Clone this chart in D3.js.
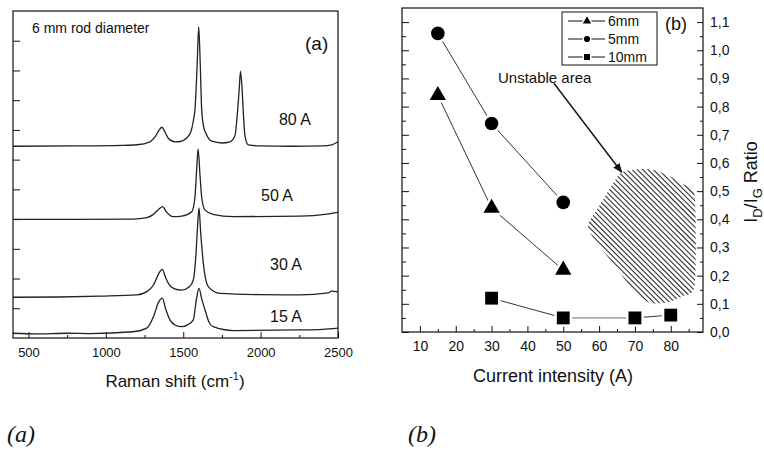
<!DOCTYPE html>
<html>
<head>
<meta charset="utf-8">
<script src="https://cdn.jsdelivr.net/npm/d3@7"></script>
<style>
  body { margin: 0; background: #fff; }
  svg text { font-family: "Liberation Sans", Arial, sans-serif; fill: #111; }
  .tick line { stroke: #111; }
</style>
</head>
<body>
<div id="chart"></div>
<script>
var width = 764;
var height = 450;

// ---- panel (a): Raman spectra, [shift, intensity] pairs
var spec80 = [[400,6.45],[800,6.46],[1100,6.48],[1200,6.50],[1285,6.60],[1320,6.78],[1345,7.0],[1362,7.09],[1380,6.95],[1403,6.72],[1447,6.60],[1480,6.61],[1522,6.73],[1548,6.92],[1565,7.3],[1576,7.7],[1590,9.2],[1600,10.47],[1610,9.2],[1619,7.7],[1632,7.1],[1647,6.88],[1684,6.62],[1750,6.56],[1802,6.60],[1834,6.8],[1849,7.5],[1862,8.4],[1870,8.98],[1880,8.4],[1888,7.6],[1899,6.8],[1920,6.5],[2000,6.46],[2200,6.45],[2400,6.46],[2460,6.5],[2500,6.6]];
var spec50 = [[400,3.99],[800,3.99],[1175,4.0],[1264,4.05],[1305,4.15],[1335,4.3],[1367,4.42],[1390,4.25],[1434,4.08],[1490,4.1],[1555,4.25],[1575,4.7],[1585,5.5],[1596,6.36],[1608,5.5],[1620,4.7],[1641,4.3],[1692,4.16],[1822,4.08],[2254,4.1],[2429,4.17],[2500,4.23]];
var spec30 = [[400,1.37],[700,1.38],[962,1.41],[1200,1.45],[1264,1.56],[1310,1.8],[1340,2.15],[1365,2.31],[1385,2.05],[1404,1.84],[1440,1.66],[1490,1.61],[1540,1.72],[1565,1.95],[1582,2.8],[1593,3.8],[1602,4.38],[1612,3.6],[1630,2.51],[1662,1.73],[1738,1.5],[2000,1.46],[2254,1.45],[2437,1.52],[2459,1.58],[2500,1.55]];
var spec15 = [[400,0.16],[550,0.14],[747,0.16],[900,0.15],[1175,0.21],[1264,0.33],[1310,0.75],[1340,1.2],[1365,1.34],[1385,1.0],[1414,0.61],[1450,0.43],[1490,0.38],[1530,0.45],[1565,0.61],[1585,1.3],[1602,1.67],[1620,1.3],[1641,0.94],[1665,0.55],[1694,0.38],[1823,0.25],[2254,0.27],[2400,0.29],[2500,0.33]];
var spectra = [spec80, spec50, spec30, spec15];
var specLabels = ['80 A', '50 A', '30 A', '15 A'];
var specLabelPos = [[2222,7.16],[2106,4.61],[2164,2.29],[2164,0.54]];
var ramanTicks = [500, 1000, 1500, 2000, 2500];
var ramanMinor = [750, 1250, 1750, 2250];
var intensityTicks = [1, 2, 3, 4, 5, 6, 7, 8, 9, 10];

// ---- panel (b): ID/IG ratio vs current
var current6 = [15, 30, 50];
var ratio6 = [0.84, 0.44, 0.22];
var current5 = [15, 30, 50];
var ratio5 = [1.06, 0.74, 0.46];
var current10 = [30, 50, 70, 80];
var ratio10 = [0.12, 0.05, 0.05, 0.06];
var currentTicks = [10, 20, 30, 40, 50, 60, 70, 80];
var currentMinor = [15, 25, 35, 45, 55, 65, 75, 85];
var ratioTicks = [0, 0.1, 0.2, 0.3, 0.4, 0.5, 0.6, 0.7, 0.8, 0.9, 1.0, 1.1];
var ratioMinor = [0.05, 0.15, 0.25, 0.35, 0.45, 0.55, 0.65, 0.75, 0.85, 0.95, 1.05];
// unstable area outline (current, ratio) and arrow
var unstableOutline = [[66.3,0.567],[71.4,0.578],[75.6,0.574],[79.7,0.553],[83.4,0.525],[86.7,0.482],[86.7,0.167],[83.4,0.128],[79.2,0.106],[74.2,0.103],[70.0,0.142],[63.6,0.248],[58.8,0.326],[56.9,0.379],[60.2,0.45],[63.6,0.521]];
var arrowFrom = [47.4, 0.883];
var arrowTo = [66.3, 0.567];

var svg = d3.select('#chart')
  .append('svg')
  .attr('width', width)
  .attr('height', height);

svg.append('rect').attr('width', width).attr('height', height).attr('fill', '#fff');

// ================= panel (a)
var xA = d3.scaleLinear().domain([400, 2500]).range([13, 338]);
var yA = d3.scaleLinear().domain([0, 11]).range([338, 11]);

var gA = svg.append('g');

gA.append('g')
  .attr('transform', 'translate(0,338)')
  .call(d3.axisBottom(xA).tickValues(ramanTicks).tickSize(-6).tickPadding(10).tickFormat(d3.format('d')))
  .call(g => g.select('.domain').remove())
  .selectAll('text').style('font-size', '13px');

gA.append('g')
  .attr('transform', 'translate(0,338)')
  .call(d3.axisBottom(xA).tickValues(ramanMinor).tickSize(-3).tickFormat(''))
  .call(g => g.select('.domain').remove());

gA.append('g')
  .attr('transform', 'translate(13,0)')
  .call(d3.axisLeft(yA).tickValues(intensityTicks).tickSize(-7).tickFormat(''))
  .call(g => g.select('.domain').remove());

var specLine = d3.line()
  .x(d => xA(d[0]))
  .y(d => yA(d[1]))
  .curve(d3.curveMonotoneX);

gA.selectAll('path.spec')
  .data(spectra)
  .enter()
  .append('path')
  .attr('class', 'spec')
  .attr('d', specLine)
  .attr('fill', 'none')
  .attr('stroke', '#222')
  .attr('stroke-width', 1.3);

gA.selectAll('text.slab')
  .data(specLabels)
  .enter()
  .append('text')
  .attr('class', 'slab')
  .attr('x', (d, i) => xA(specLabelPos[i][0]))
  .attr('y', (d, i) => yA(specLabelPos[i][1]))
  .attr('text-anchor', 'middle')
  .style('font-size', '16px')
  .text(d => d);

gA.append('rect')
  .attr('x', 13).attr('y', 11).attr('width', 325).attr('height', 327)
  .attr('fill', 'none').attr('stroke', '#111').attr('stroke-width', 1.2);

gA.append('text').attr('x', 32).attr('y', 33).style('font-size', '14px').text('6 mm rod diameter');
gA.append('text').attr('x', 305).attr('y', 50).style('font-size', '19px').text('(a)');

var xlabA = gA.append('text')
  .attr('x', 175).attr('y', 387)
  .attr('text-anchor', 'middle')
  .style('font-size', '17px');
xlabA.append('tspan').text('Raman shift (cm');
xlabA.append('tspan').attr('dy', -7).style('font-size', '11px').text('-1');
xlabA.append('tspan').attr('dy', 7).text(')');

// ================= panel (b)
var xB = d3.scaleLinear().domain([5, 89]).range([402, 703]);
var yB = d3.scaleLinear().domain([0, 1.15]).range([332, 8]);
var gB = svg.append('g');

// hatched unstable area
gB.append('clipPath').attr('id', 'blob')
  .append('path')
  .attr('d', d3.line().x(d => xB(d[0])).y(d => yB(d[1])).curve(d3.curveCardinalClosed.tension(0.3))(unstableOutline));

var hatchG = gB.append('g').attr('clip-path', 'url(#blob)');
var hatchStarts = d3.range(480, 720, 5.3);
hatchG.selectAll('line')
  .data(hatchStarts)
  .enter()
  .append('line')
  .attr('x1', d => d)
  .attr('y1', 150)
  .attr('x2', d => d + 180)
  .attr('y2', 330)
  .attr('stroke', '#333')
  .attr('stroke-width', 1.1);

// axes
var fmt = d => d3.format('.1f')(d).replace('.', ',');

gB.append('g')
  .attr('transform', 'translate(0,332)')
  .call(d3.axisBottom(xB).tickValues(currentTicks).tickSize(-6).tickPadding(9))
  .call(g => g.select('.domain').remove())
  .selectAll('text').style('font-size', '14px');
gB.append('g')
  .attr('transform', 'translate(0,332)')
  .call(d3.axisBottom(xB).tickValues(currentMinor).tickSize(-3).tickFormat(''))
  .call(g => g.select('.domain').remove());

gB.append('g')
  .attr('transform', 'translate(703,0)')
  .call(d3.axisRight(yB).tickValues(ratioTicks).tickSize(-6).tickPadding(7).tickFormat(fmt))
  .call(g => g.select('.domain').remove())
  .selectAll('text').style('font-size', '14px');
gB.append('g')
  .attr('transform', 'translate(703,0)')
  .call(d3.axisRight(yB).tickValues(ratioMinor).tickSize(-3).tickFormat(''))
  .call(g => g.select('.domain').remove());
gB.append('g')
  .attr('transform', 'translate(402,0)')
  .call(d3.axisLeft(yB).tickValues(ratioTicks).tickSize(-7).tickFormat(''))
  .call(g => g.select('.domain').remove());
gB.append('g')
  .attr('transform', 'translate(402,0)')
  .call(d3.axisLeft(yB).tickValues(ratioMinor).tickSize(-4).tickFormat(''))
  .call(g => g.select('.domain').remove());

// series
var series = [
  { xs: current6, ys: ratio6, sym: d3.symbolTriangle, size: 115 },
  { xs: current5, ys: ratio5, sym: d3.symbolCircle, size: 145 },
  { xs: current10, ys: ratio10, sym: d3.symbolSquare, size: 165 }
];

series.forEach(function (s) {
  var pts = s.xs.map((x, i) => [x, s.ys[i]]);
  for (var i = 0; i < pts.length - 1; i++) {
    var light = (s.sym === d3.symbolSquare && pts[i][0] === 50);
    gB.append('line')
      .attr('x1', xB(pts[i][0])).attr('y1', yB(pts[i][1]))
      .attr('x2', xB(pts[i + 1][0])).attr('y2', yB(pts[i + 1][1]))
      .attr('stroke', light ? '#aaa' : '#333')
      .attr('stroke-width', light ? 1.6 : 1);
  }
  gB.selectAll(null)
    .data(pts)
    .enter()
    .append('path')
    .attr('d', d3.symbol().type(s.sym).size(s.size))
    .attr('transform', d => 'translate(' + xB(d[0]) + ',' + yB(d[1]) + ')')
    .attr('fill', '#000')
    .attr('stroke', '#fff')
    .attr('stroke-width', 5)
    .style('paint-order', 'stroke');
});

// arrow
svg.append('defs').append('marker')
  .attr('id', 'head')
  .attr('viewBox', '0 0 10 10')
  .attr('refX', 9).attr('refY', 5)
  .attr('markerWidth', 7).attr('markerHeight', 7)
  .attr('orient', 'auto')
  .append('path').attr('d', 'M0,1 L10,5 L0,9 Z').attr('fill', '#111');

gB.append('line')
  .attr('x1', xB(arrowFrom[0])).attr('y1', yB(arrowFrom[1]))
  .attr('x2', xB(arrowTo[0])).attr('y2', yB(arrowTo[1]))
  .attr('stroke', '#111').attr('stroke-width', 1.4)
  .attr('marker-end', 'url(#head)');

gB.append('text').attr('x', 498).attr('y', 83).style('font-size', '15px').text('Unstable area');

// frame
gB.append('rect')
  .attr('x', 402).attr('y', 8).attr('width', 301).attr('height', 324)
  .attr('fill', 'none').attr('stroke', '#111').attr('stroke-width', 1.2);

// legend
var legNames = ['6mm', '5mm', '10mm'];
var legSyms = [[d3.symbolTriangle, 30], [d3.symbolCircle, 30], [d3.symbolSquare, 36]];
gB.append('rect')
  .attr('x', 562).attr('y', 12).attr('width', 95).attr('height', 53)
  .attr('fill', '#fff').attr('stroke', '#111').attr('stroke-width', 1);
legNames.forEach(function (n, i) {
  var cy = 21 + i * 18;
  gB.append('line').attr('x1', 568).attr('x2', 605).attr('y1', cy).attr('y2', cy)
    .attr('stroke', '#111').attr('stroke-width', 1);
  gB.append('path')
    .attr('d', d3.symbol().type(legSyms[i][0]).size(legSyms[i][1]))
    .attr('transform', 'translate(587,' + cy + ')')
    .attr('fill', '#000').attr('stroke', '#fff').attr('stroke-width', 3).style('paint-order', 'stroke');
  gB.append('text').attr('x', 608).attr('y', cy + 5).style('font-size', '14px').text(n);
});

gB.append('text').attr('x', 665).attr('y', 30).style('font-size', '18px').text('(b)');

gB.append('text')
  .attr('x', 553).attr('y', 382)
  .attr('text-anchor', 'middle')
  .style('font-size', '18px')
  .text('Current intensity (A)');

var ylabB = gB.append('text')
  .attr('transform', 'translate(757,182) rotate(-90)')
  .attr('text-anchor', 'middle')
  .style('font-size', '18px');
ylabB.append('tspan').text('I');
ylabB.append('tspan').attr('dy', 5).style('font-size', '13px').text('D');
ylabB.append('tspan').attr('dy', -5).text('/I');
ylabB.append('tspan').attr('dy', 5).style('font-size', '13px').text('G');
ylabB.append('tspan').attr('dy', -5).text(' Ratio');

// figure captions
svg.append('text').attr('x', 7).attr('y', 442)
  .style('font-family', '"Liberation Serif", "Times New Roman", serif')
  .style('font-style', 'italic').style('font-size', '24px').text('(a)');
svg.append('text').attr('x', 408).attr('y', 442)
  .style('font-family', '"Liberation Serif", "Times New Roman", serif')
  .style('font-style', 'italic').style('font-size', '24px').text('(b)');
</script>
</body>
</html>
